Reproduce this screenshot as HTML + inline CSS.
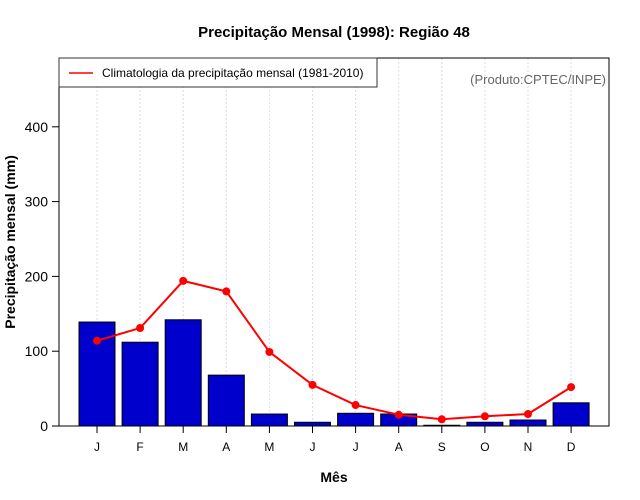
<!DOCTYPE html>
<html><head><meta charset="utf-8"><style>body{margin:0;background:#fff}svg{display:block;font-family:"Liberation Sans",sans-serif}</style></head>
<body>
<svg id="c" width="640" height="500">
<text x="334" y="37" text-anchor="middle" font-size="15" font-weight="bold">Precipitação Mensal (1998): Região 48</text>
<g id="grid"></g><g id="bars"></g><g id="line"></g><g id="axes"></g>
<rect x="59" y="58" width="318" height="29" fill="#fff" stroke="#333"/>
<line x1="69" y1="73" x2="93" y2="73" stroke="red" stroke-width="1.5"/>
<text x="102" y="77" font-size="12">Climatologia da precipitação mensal (1981-2010)</text>
<text x="606" y="84" text-anchor="end" font-size="13" fill="#666">(Produto:CPTEC/INPE)</text>
<text x="334" y="482" text-anchor="middle" font-size="14" font-weight="bold">Mês</text>
<text transform="translate(15,242) rotate(-90)" text-anchor="middle" font-size="14" font-weight="bold">Precipitação mensal (mm)</text>
</svg>
<script>
const months=["J","F","M","A","M","J","J","A","S","O","N","D"];
const precip=[139,112,142,68,16,5,17,16,1,5,8,31];
const clim=[114,131,194,180,99,55,28,15,9,13,16,52];
const yTicks=[0,100,200,300,400];
const NS="http://www.w3.org/2000/svg";
const x=i=>97+i*43.1;
const y=v=>426-v*0.748;
function mk(t,a,p){const e=document.createElementNS(NS,t);for(const k in a)e.setAttribute(k,a[k]);document.getElementById(p).appendChild(e);return e;}
months.forEach((m,i)=>{
 const g=mk('line',{x1:x(i),x2:x(i),y1:58,y2:426,stroke:'#ddd','stroke-dasharray':'2,2'},'grid');
 
 
 const b=mk('rect',{x:x(i)-18,y:y(precip[i]),width:36,height:426-y(precip[i]),fill:'#0000cd',stroke:'#000'},'bars');
 
 
 const t=mk('line',{x1:x(i),x2:x(i),y1:426,y2:433,stroke:'#000'},'axes');
 
 
 const l=mk('text',{x:x(i),y:451,'text-anchor':'middle','font-size':12},'axes');
 l.textContent=m;
 
 
});
const pl=mk('polyline',{points:clim.map((v,i)=>x(i)+','+y(v)).join(' '),fill:'none',stroke:'red','stroke-width':2},'line');


clim.forEach((v,i)=>{const c=mk('circle',{cx:x(i),cy:y(v),r:4,fill:'red'},'line');
 
 });
const f=mk('rect',{x:59,y:58,width:550,height:368,fill:'none',stroke:'#000'},'axes');


yTicks.forEach(v=>{
 const t=mk('line',{x1:52,x2:59,y1:y(v),y2:y(v),stroke:'#000'},'axes');
 
 
 const l=mk('text',{x:48,y:y(v)+5,'text-anchor':'end','font-size':14},'axes');
 l.textContent=v;
 
 
});
</script>
</body></html>
